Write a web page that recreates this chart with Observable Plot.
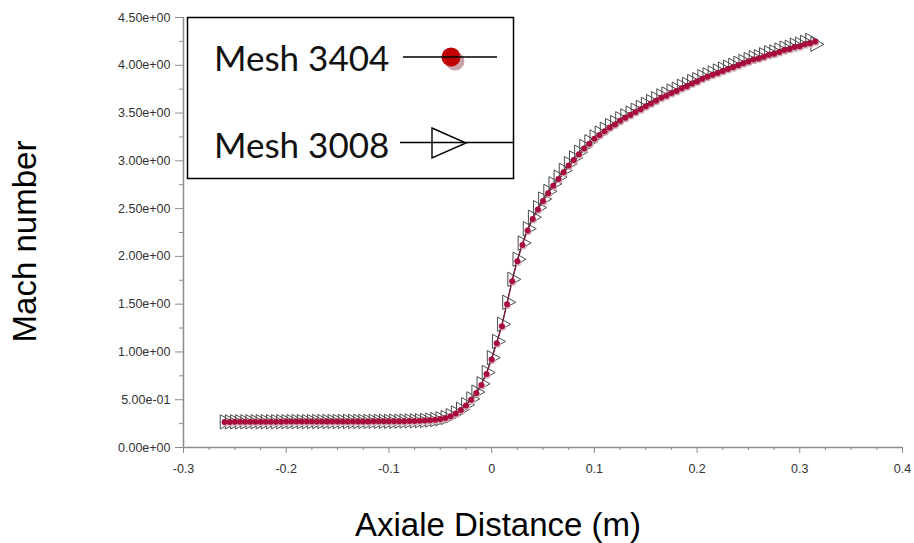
<!DOCTYPE html>
<html>
<head>
<meta charset="utf-8">
<script src="https://cdn.jsdelivr.net/npm/d3@7"></script>
<script src="https://cdn.jsdelivr.net/npm/@observablehq/plot@0.6"></script>
<style>
  html, body { margin: 0; padding: 0; background: #fff; }
  #wrap { position: relative; width: 914px; height: 543px; }
  #legend { position: absolute; left: 0; top: 0; pointer-events: none; }
</style>
</head>
<body>
<div id="wrap">
  <div id="chart"></div>
  <svg id="legend" width="914" height="543">
    <rect x="187.5" y="17.5" width="326" height="161" fill="#fff" stroke="#000" stroke-width="1.5"></rect>
    <text x="214" y="71" font-family="Lato, 'Open Sans', sans-serif" font-size="35" fill="#111">Mesh 3404</text>
    <circle cx="455" cy="61" r="9.5" fill="#caa4a8"></circle>
    <circle cx="451" cy="57" r="9.5" fill="#c00000"></circle>
    <line x1="403" x2="497" y1="57" y2="57" stroke="#000" stroke-width="1.5"></line>
    <text x="214" y="158" font-family="Lato, 'Open Sans', sans-serif" font-size="35" fill="#111">Mesh 3008</text>
    <line x1="400" x2="513" y1="142.5" y2="142.5" stroke="#000" stroke-width="1.5"></line>
    <polygon points="432,128 466,143 432,158" fill="none" stroke="#000" stroke-width="1.4"></polygon>
  </svg>
</div>
<script>
// ---- data ----
const axialX = [
  -0.260,-0.255,-0.250,-0.245,-0.240,-0.235,-0.230,-0.225,-0.220,-0.215,
  -0.210,-0.205,-0.200,-0.195,-0.190,-0.185,-0.180,-0.175,-0.170,-0.165,
  -0.160,-0.155,-0.150,-0.145,-0.140,-0.135,-0.130,-0.125,-0.120,-0.115,
  -0.110,-0.105,-0.100,-0.095,-0.090,-0.085,-0.080,-0.075,-0.070,-0.065,
  -0.060,-0.055,-0.050,-0.045,-0.040,-0.035,-0.030,-0.025,-0.020,-0.015,
  -0.010,-0.005,0.000,0.005,0.010,0.015,0.020,0.025,0.030,0.035,
  0.040,0.045,0.050,0.055,0.060,0.065,0.070,0.075,0.080,0.085,
  0.090,0.095,0.100,0.105,0.110,0.115,0.120,0.125,0.130,0.135,
  0.140,0.145,0.150,0.155,0.160,0.165,0.170,0.175,0.180,0.185,
  0.190,0.195,0.200,0.205,0.210,0.215,0.220,0.225,0.230,0.235,
  0.240,0.245,0.250,0.255,0.260,0.265,0.270,0.275,0.280,0.285,
  0.290,0.295,0.300,0.305,0.310,0.315
];
const mach3404 = [
  0.268,0.268,0.269,0.269,0.269,0.270,0.270,0.270,0.270,0.270,
  0.270,0.270,0.271,0.271,0.271,0.271,0.271,0.271,0.272,0.272,
  0.272,0.272,0.272,0.272,0.273,0.273,0.273,0.273,0.273,0.274,
  0.274,0.274,0.274,0.275,0.275,0.276,0.277,0.278,0.280,0.282,
  0.285,0.290,0.298,0.310,0.328,0.355,0.392,0.440,0.500,0.570,
  0.655,0.770,0.920,1.090,1.270,1.500,1.740,1.950,2.120,2.270,
  2.390,2.490,2.580,2.660,2.740,2.810,2.880,2.950,3.010,3.070,
  3.130,3.180,3.230,3.270,3.310,3.350,3.380,3.420,3.450,3.480,
  3.510,3.540,3.570,3.600,3.630,3.660,3.680,3.710,3.730,3.760,
  3.780,3.810,3.830,3.860,3.880,3.900,3.920,3.940,3.960,3.980,
  4.000,4.020,4.040,4.060,4.070,4.090,4.110,4.120,4.140,4.160,
  4.170,4.190,4.200,4.220,4.230,4.250
];
const mach3008 = [
  0.268,0.268,0.269,0.269,0.269,0.270,0.270,0.270,0.270,0.270,
  0.270,0.270,0.271,0.271,0.271,0.271,0.271,0.271,0.272,0.272,
  0.272,0.272,0.272,0.272,0.273,0.273,0.273,0.273,0.273,0.274,
  0.274,0.274,0.274,0.275,0.276,0.277,0.278,0.279,0.281,0.283,
  0.287,0.292,0.301,0.314,0.333,0.361,0.399,0.448,0.509,0.580,
  0.667,0.785,0.940,1.110,1.290,1.520,1.760,1.970,2.140,2.290,
  2.410,2.510,2.600,2.680,2.760,2.830,2.900,2.970,3.030,3.090,
  3.150,3.200,3.250,3.290,3.330,3.370,3.400,3.440,3.470,3.500,
  3.530,3.560,3.590,3.620,3.650,3.680,3.700,3.730,3.750,3.780,
  3.800,3.830,3.850,3.880,3.900,3.920,3.940,3.960,3.980,4.000,
  4.020,4.040,4.060,4.080,4.090,4.110,4.130,4.140,4.160,4.180,
  4.190,4.210,4.220,4.240,4.260,4.220
];
const yMajorTicks = [0, 0.5, 1, 1.5, 2, 2.5, 3, 3.5, 4, 4.5];
const yMinorTicks = [0.25, 0.75, 1.25, 1.75, 2.25, 2.75, 3.25, 3.75, 4.25];
const xMajorTicks = [-0.3, -0.2, -0.1, 0, 0.1, 0.2, 0.3, 0.4];
const xMinorTicks = [-0.275, -0.25, -0.225, -0.175, -0.15, -0.125, -0.075, -0.05, -0.025,
  0.025, 0.05, 0.075, 0.125, 0.15, 0.175, 0.225, 0.25, 0.275, 0.325, 0.35, 0.375];
const seriesNames = ["Mesh 3404", "Mesh 3008"];
const xTitle = "Axiale Distance (m)";
const yTitle = "Mach number";

// ---- tables ----
const mesh3404 = axialX.map((x, i) => ({x, m: mach3404[i], series: seriesNames[0]}));
const mesh3008 = axialX.map((x, i) => ({x, m: mach3008[i], series: seriesNames[1]}));

const fmtE = d => {
  const [mant, ex] = d.toExponential(2).split("e");
  const sign = ex[0] === "-" ? "-" : "+";
  const digits = ex.replace(/[+-]/, "").padStart(2, "0");
  return mant + "e" + sign + digits;
};
const fmtX = d => String(+d.toFixed(1));

// right-pointing triangle, centred on its centroid
const triRight = {
  draw(ctx, size) {
    const r = Math.sqrt(size / Math.PI);
    const W = 2 * r, h = r * 1.1;
    ctx.moveTo(-W / 3, -h);
    ctx.lineTo(2 * W / 3, 0);
    ctx.lineTo(-W / 3, h);
    ctx.closePath();
  }
};

const axisGrey = "#8c8c8c";

const chart = Plot.plot({
  width: 914,
  height: 543,
  marginLeft: 183,
  marginRight: 12,
  marginTop: 17,
  marginBottom: 96,
  x: {domain: [-0.3, 0.4], label: null},
  y: {domain: [0, 4.5], label: null},
  style: {fontFamily: "'Liberation Sans', Arial, sans-serif", fontSize: "12.5px", color: "#333", background: "#fff"},
  marks: [
    Plot.axisY(yMajorTicks, {tickSize: 8, tickPadding: 5, tickFormat: fmtE, stroke: axisGrey, fill: "#333", label: null}),
    Plot.axisY(yMinorTicks, {tickSize: 4, tickFormat: () => "", stroke: axisGrey, label: null}),
    Plot.axisX(xMajorTicks, {tickSize: 6, tickPadding: 11, tickFormat: fmtX, stroke: axisGrey, fill: "#333", label: null}),
    Plot.axisX(xMinorTicks, {tickSize: 3, tickFormat: () => "", stroke: axisGrey, label: null}),
    Plot.ruleX([-0.3], {stroke: axisGrey, strokeWidth: 1.5}),
    Plot.ruleY([0], {stroke: axisGrey, strokeWidth: 1.5}),
    Plot.line(mesh3008, {x: "x", y: "m", stroke: "#222", strokeWidth: 1}),
    Plot.dot(mesh3008, {x: "x", y: "m", symbol: triRight, r: 6.5, stroke: "#4a4a4a", fill: "none", strokeWidth: 1}),
    Plot.line(mesh3404, {x: "x", y: "m", stroke: "#8a0a30", strokeWidth: 1}),
    Plot.dot(mesh3404, {x: "x", y: "m", r: 3, fill: "#d2aeb6", dx: 1, dy: 1.5}),
    Plot.dot(mesh3404, {x: "x", y: "m", r: 3, fill: "#a80c3c"}),
    Plot.text([yTitle], {text: d => d, frameAnchor: "left", textAnchor: "middle", lineAnchor: "middle", dx: -158, dy: 9, rotate: -90, fontSize: 33, fill: "#000"}),
    Plot.text([xTitle], {text: d => d, frameAnchor: "bottom", textAnchor: "middle", lineAnchor: "middle", dx: -45, dy: 78, fontSize: 33, fill: "#000"})
  ]
});
document.getElementById("chart").appendChild(chart);
</script>
</body>
</html>
